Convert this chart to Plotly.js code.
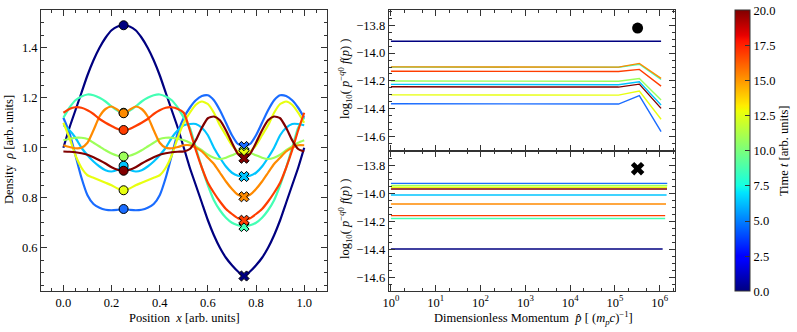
<!DOCTYPE html>
<html>
<head>
<meta charset="utf-8">
<script src="https://cdn.plot.ly/plotly-3.0.1.min.js"></script>
<style>
  html, body { margin: 0; padding: 0; background: #fff; }
  #chart { width: 797px; height: 332px; }
</style>
</head>
<body>
<div id="chart"></div>
<script>
// position grid of the density profiles
var xPos = [0, 0.025, 0.05, 0.075, 0.1, 0.125, 0.15, 0.175, 0.2, 0.225, 0.25,
  0.275, 0.3, 0.325, 0.35, 0.375, 0.4, 0.425, 0.45, 0.475, 0.5,
  0.525, 0.55, 0.575, 0.6, 0.625, 0.65, 0.675, 0.7, 0.725, 0.75,
  0.775, 0.8, 0.825, 0.85, 0.875, 0.9, 0.925, 0.95, 0.975, 1.0];

// density per snapshot, early -> late
var rho0 = [1.00,1.08,1.15,1.22,1.29,1.35,1.40,1.44,1.47,1.485,1.49,
  1.485,1.47,1.44,1.40,1.35,1.29,1.22,1.15,1.08,1.00,
  0.92,0.85,0.78,0.71,0.65,0.60,0.56,0.53,0.505,0.487,
  0.505,0.53,0.56,0.60,0.65,0.71,0.78,0.85,0.92,1.00];
var rho1 = [1.12,1.06,0.97,0.88,0.81,0.775,0.76,0.752,0.75,0.752,0.755,
  0.752,0.75,0.752,0.76,0.775,0.81,0.88,0.97,1.06,1.12,
  1.16,1.19,1.207,1.21,1.19,1.15,1.10,1.05,1.015,1.005,
  1.015,1.05,1.10,1.15,1.19,1.21,1.207,1.19,1.16,1.12];
var rho2 = [1.09,1.07,1.04,1.00,0.97,0.945,0.925,0.91,0.905,0.912,0.928,
  0.912,0.905,0.91,0.925,0.945,0.97,1.00,1.04,1.07,1.09,
  1.095,1.095,1.08,1.05,1.00,0.96,0.925,0.90,0.888,0.885,
  0.888,0.90,0.925,0.96,1.00,1.05,1.08,1.095,1.095,1.09];
var rho3 = [1.12,1.16,1.19,1.205,1.213,1.21,1.20,1.185,1.165,1.148,1.14,
  1.148,1.165,1.185,1.20,1.21,1.213,1.205,1.19,1.16,1.12,
  1.08,1.00,0.92,0.85,0.79,0.75,0.72,0.70,0.69,0.685,
  0.69,0.70,0.72,0.75,0.79,0.85,0.92,1.00,1.08,1.12];
var rho4 = [1.03,1.035,1.04,1.04,1.035,1.02,1.005,0.99,0.977,0.968,0.965,
  0.968,0.977,0.99,1.005,1.02,1.035,1.04,1.04,1.035,1.03,
  1.02,1.005,0.99,0.972,0.96,0.955,0.96,0.97,0.98,0.985,
  0.98,0.97,0.96,0.955,0.96,0.972,0.99,1.005,1.02,1.03];
var rho5 = [1.10,1.04,0.97,0.92,0.89,0.88,0.87,0.86,0.85,0.837,0.83,
  0.837,0.85,0.86,0.87,0.88,0.89,0.92,0.97,1.04,1.10,
  1.14,1.172,1.185,1.175,1.14,1.09,1.05,1.01,0.985,0.978,
  0.985,1.01,1.05,1.09,1.14,1.175,1.185,1.172,1.14,1.10];
var rho6 = [1.01,1.003,0.998,1.00,1.02,1.07,1.125,1.155,1.165,1.152,1.138,
  1.152,1.165,1.155,1.125,1.07,1.02,1.00,0.998,1.003,1.01,
  1.01,1.00,0.985,0.96,0.935,0.90,0.865,0.835,0.812,0.804,
  0.812,0.835,0.865,0.90,0.935,0.96,0.985,1.00,1.01,1.01];
var rho7 = [1.14,1.155,1.162,1.16,1.15,1.135,1.115,1.10,1.087,1.075,1.071,
  1.075,1.087,1.10,1.115,1.135,1.15,1.16,1.162,1.155,1.14,
  1.07,0.99,0.92,0.86,0.82,0.785,0.755,0.735,0.718,0.71,
  0.718,0.735,0.755,0.785,0.82,0.86,0.92,0.99,1.07,1.14];
var rho8 = [0.985,0.984,0.982,0.978,0.972,0.962,0.95,0.937,0.922,0.912,0.908,
  0.912,0.922,0.937,0.95,0.962,0.972,0.978,0.982,0.984,0.985,
  0.995,1.03,1.08,1.118,1.125,1.11,1.07,1.02,0.975,0.958,
  0.975,1.02,1.07,1.11,1.125,1.118,1.08,1.03,0.995,0.985];
var rhoAll = [rho0, rho1, rho2, rho3, rho4, rho5, rho6, rho7, rho8];

// probe points (circle at x=0.25, cross at x=0.75)
var probeX = [0.25, 0.75];

// spectrum at x=0.25 (top right), log10 values
var pTop = [1, 1.2e5, 3.5e5, 1.07e6];
var top0 = [-13.915,-13.915,-13.915,-13.915];
var top1 = [-14.364,-14.366,-14.305,-14.564];
var top2 = [-14.225,-14.227,-14.206,-14.373];
var top3 = [-14.100,-14.102,-14.080,-14.190];
var top4 = [-14.200,-14.202,-14.182,-14.337];
var top5 = [-14.300,-14.302,-14.273,-14.475];
var top6 = [-14.099,-14.101,-14.074,-14.182];
var top7 = [-14.130,-14.132,-14.117,-14.237];
var top8 = [-14.242,-14.244,-14.223,-14.397];
var topAll = [top0, top1, top2, top3, top4, top5, top6, top7, top8];

// spectrum at x=0.75 (bottom right): flat level and last momentum
var botLevel = [-14.394,-13.925,-14.008,-14.176,-13.940,-13.953,-14.072,-14.155,-13.965];
var botEnd = [1.16e6, 1.47e6, 1.42e6, 1.32e6, 1.47e6, 1.45e6, 1.38e6, 1.32e6, 1.45e6];

// key symbols in the spectrum panels
var keyP = [3.2e5];
var keyLog = [-13.82];

var tRange = [0, 20];
var decadeVals = [1, 10, 100, 1000, 10000, 100000, 1000000];
var decadeText = ['10<sup>0</sup>','10<sup>1</sup>','10<sup>2</sup>','10<sup>3</sup>','10<sup>4</sup>','10<sup>5</sup>','10<sup>6</sup>'];

var colors = ['#000080','#1a6cff','#00c4ff','#43ffb4','#9cff5a','#e8ff10','#ff8a00','#ff3d00','#800000'];
var jet = [[0,'#000080'],[0.11,'#0000ff'],[0.125,'#0000ff'],[0.34,'#00dbff'],[0.35,'#00e5ff'],
  [0.375,'#14ffe2'],[0.64,'#eeff08'],[0.65,'#f7f500'],[0.66,'#ffec00'],[0.89,'#ff1300'],
  [0.91,'#e80000'],[1,'#800000']];

var FONT = 'Liberation Serif, Times New Roman, serif';
var SPINE = '#333';

var traces = [];
for (let k = 0; k < rhoAll.length; k++) {
  traces.push({
    x: xPos, y: rhoAll[k], mode: 'lines', xaxis: 'x', yaxis: 'y',
    line: {color: colors[k], width: 2.2, shape: 'spline', smoothing: 0.6},
    hoverinfo: 'skip', showlegend: false
  });
  let i1 = xPos.indexOf(probeX[0]);
  let i2 = xPos.indexOf(probeX[1]);
  traces.push({
    x: [xPos[i1]], y: [rhoAll[k][i1]], mode: 'markers', xaxis: 'x', yaxis: 'y',
    marker: {symbol: 'circle', size: 9, color: colors[k], line: {color: '#000', width: 1}},
    showlegend: false
  });
  traces.push({
    x: [xPos[i2]], y: [rhoAll[k][i2]], mode: 'markers', xaxis: 'x', yaxis: 'y',
    marker: {symbol: 'x', size: 9, color: colors[k], line: {color: '#000', width: 1}},
    showlegend: false
  });
}

for (let k = 0; k < topAll.length; k++) {
  traces.push({
    x: pTop, y: topAll[k], mode: 'lines', xaxis: 'x2', yaxis: 'y2',
    line: {color: colors[k], width: 1.4}, showlegend: false
  });
}
for (let k = 0; k < botLevel.length; k++) {
  traces.push({
    x: [1, botEnd[k]], y: [botLevel[k], botLevel[k]], mode: 'lines', xaxis: 'x3', yaxis: 'y3',
    line: {color: colors[k], width: 1.4}, showlegend: false
  });
}
traces.push({x: keyP, y: keyLog, mode: 'markers', xaxis: 'x2', yaxis: 'y2',
  marker: {symbol: 'circle', size: 11, color: '#000'}, showlegend: false});
traces.push({x: keyP, y: keyLog, mode: 'markers', xaxis: 'x3', yaxis: 'y3',
  marker: {symbol: 'x', size: 12, color: '#000'}, showlegend: false});

// colorbar carrier (kept outside the visible range)
traces.push({
  x: [-5, -5], y: [0, 0], mode: 'markers', xaxis: 'x', yaxis: 'y',
  marker: {
    color: tRange, cmin: tRange[0], cmax: tRange[1], colorscale: jet, size: 1, opacity: 0,
    showscale: true,
    colorbar: {
      x: 734.5/797, xanchor: 'left', xpad: 0, ypad: 0,
      y: 1 - 150.8/332, yanchor: 'middle', len: 280.5/332, lenmode: 'fraction',
      thickness: 15, outlinecolor: SPINE, outlinewidth: 1,
      tick0: 0, dtick: 2.5, tickformat: '.1f', ticks: 'inside', ticklen: 5,
      tickcolor: SPINE, tickfont: {family: FONT, size: 12.5, color: '#000'},
      title: {text: 'Time <i>t</i> [arb. units]', side: 'right', font: {family: FONT, size: 12.5, color: '#000'}}
    }
  },
  showlegend: false, hoverinfo: 'skip'
});

function axisStyle(extra) {
  let a = {
    showline: true, linecolor: SPINE, linewidth: 1, mirror: 'allticks',
    ticks: 'inside', ticklen: 6, tickcolor: SPINE, tickwidth: 1,
    showgrid: false, zeroline: false,
    tickfont: {family: FONT, size: 12.5, color: '#000'},
    minor: {ticks: 'inside', ticklen: 3, tickcolor: SPINE, showgrid: false}
  };
  return Object.assign(a, extra);
}

function label(text, px, py, angle) {
  return {text: text, x: px/797, y: 1 - py/332, xref: 'paper', yref: 'paper',
    xanchor: 'center', yanchor: 'middle', showarrow: false, textangle: angle || 0,
    font: {family: FONT, size: 12.5, color: '#000'}};
}

var layout = {
  width: 797, height: 332,
  margin: {l: 0, r: 0, t: 0, b: 0},
  paper_bgcolor: '#fff', plot_bgcolor: '#fff',
  font: {family: FONT, color: '#000'},
  showlegend: false,
  xaxis: axisStyle({domain: [41/797, 326.6/797], anchor: 'y', range: [-0.093, 1.093],
    tick0: 0, dtick: 0.2, tickformat: '.1f', minor: {ticks: 'inside', ticklen: 3, tickcolor: SPINE, dtick: 0.05}}),
  yaxis: axisStyle({domain: [1 - 291/332, 1 - 10/332], anchor: 'x', range: [0.427, 1.551],
    tick0: 0, dtick: 0.2, tickformat: '.1f', minor: {ticks: 'inside', ticklen: 3, tickcolor: SPINE, dtick: 0.05}}),
  xaxis2: axisStyle({domain: [388.7/797, 675/797], anchor: 'y2', type: 'log', range: [-0.05, 6.34],
    tickvals: decadeVals, ticktext: decadeText, showticklabels: false, matches: 'x3'}),
  yaxis2: axisStyle({domain: [1 - 150.5/332, 1 - 10/332], anchor: 'x2', range: [-14.70, -13.69],
    tick0: 0, dtick: 0.2, tickformat: '.1f', minor: {ticks: 'inside', ticklen: 3, tickcolor: SPINE, dtick: 0.05}}),
  xaxis3: axisStyle({domain: [388.7/797, 675/797], anchor: 'y3', type: 'log', range: [-0.05, 6.34],
    tickvals: decadeVals, ticktext: decadeText}),
  yaxis3: axisStyle({domain: [1 - 290.5/332, 1 - 150.5/332], anchor: 'x3', range: [-14.69, -13.69],
    tick0: 0, dtick: 0.2, tickformat: '.1f', minor: {ticks: 'inside', ticklen: 3, tickcolor: SPINE, dtick: 0.05}}),
  annotations: [
    label('Position  <i>x</i> [arb. units]', 184, 317.5),
    label('Density  <i>ρ</i> [arb. units]', 9, 150, -90),
    label('Dimensionless Momentum  <i>p̂</i> [ (<i>m<sub>p</sub>c</i>)<sup>−1</sup>]', 533, 318),
    label('log<sub>10</sub>( <i>p</i><sup>−<i>q</i>0</sup> <i>f</i>(<i>p</i>) )', 345, 79, -90),
    label('log<sub>10</sub>( <i>p</i><sup>−<i>q</i>0</sup> <i>f</i>(<i>p</i>) )', 345, 219, -90)
  ]
};

Plotly.newPlot('chart', traces, layout, {displayModeBar: false, staticPlot: true});
</script>
</body>
</html>
